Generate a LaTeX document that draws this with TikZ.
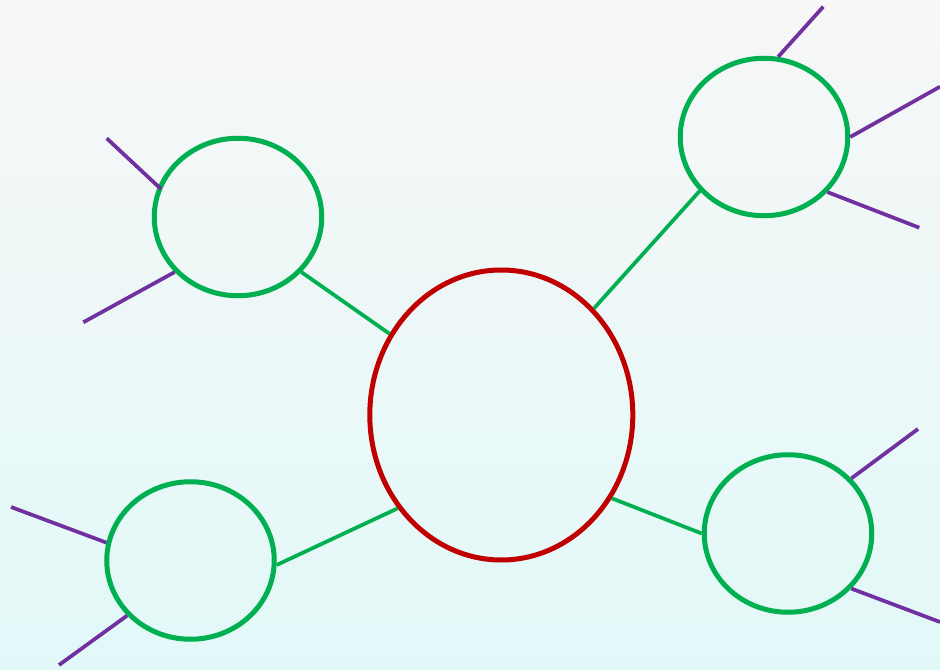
\documentclass[tikz,border=0pt]{standalone}
\usetikzlibrary{shapes.geometric,calc}
\definecolor{bgtop}{HTML}{F7F7F7}
\definecolor{bgbot}{HTML}{E2F8F8}
\definecolor{mred}{HTML}{C00000}
\definecolor{mgreen}{HTML}{00B050}
\definecolor{mpurple}{HTML}{7030A0}
\tikzset{
  centre/.style={ellipse, draw=mred, line width=3.75pt, inner sep=0pt,
    minimum width={263*0.75pt}, minimum height={290*0.75pt}},
  child/.style={ellipse, draw=mgreen, line width=3.75pt, inner sep=0pt,
    minimum width={167.5*0.75pt}, minimum height={157.5*0.75pt}},
  gline/.style={draw=mgreen, line width=2.8pt},
  pline/.style={draw=mpurple, line width=2.8pt}
}
\begin{document}
\begin{tikzpicture}[x=0.75pt,y=-0.75pt]
\shade[top color=bgtop, bottom color=bgbot] (0,0) rectangle (940,670);
\useasboundingbox (0,0) rectangle (940,670);

\node[centre] (c) at (501.3,415) {};
\node[child] (tl) at (238,217) {};
\node[child] (tr) at (764,137) {};
\node[child] (bl) at (190.5,560.5) {};
\node[child] (br) at (788,533.5) {};

% green connectors
\draw[gline] (c.144.7) -- (tl.-41.2);
\draw[gline] (c.49.1) -- (tr.-140.3);
\draw[gline] (c.-138.8) -- (bl.-3.3);
\draw[gline] (c.-37.3) -- (br.180.5);

% purple free ends
\coordinate (p1) at (106.7,138.3);
\coordinate (p2) at (83.3,322.3);
\coordinate (p3) at (823.3,6.7);
\coordinate (p4) at (940,86.7);
\coordinate (p5) at (919.3,227.7);
\coordinate (p6) at (11,507);
\coordinate (p7) at (59,665);
\coordinate (p8) at (918,429);
\coordinate (p9) at (940,622);

\draw[pline] ($(tl.159.4)!-3pt!(p1)$) -- (p1);
\draw[pline] (tl.221.8) -- (p2);
\draw[pline] (tr.80.8) -- (p3);
\draw[pline] (tr.0) -- (p4);
\draw[pline] (tr.-41.7) -- (p5);
\draw[pline] (bl.168.6) -- (p6);
\draw[pline] (bl.221.5) -- (p7);
\draw[pline] (br.41) -- (p8);
\draw[pline] (br.-41) -- (p9);
\end{tikzpicture}
\end{document}
